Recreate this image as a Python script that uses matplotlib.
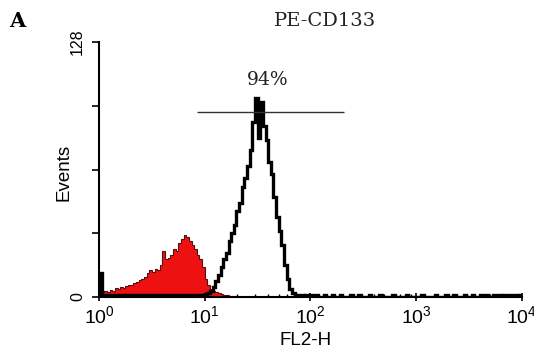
import matplotlib
matplotlib.use("Agg")
import matplotlib.pyplot as plt
import numpy as np

plt.rcParams["font.family"] = ["Liberation Sans", "DejaVu Sans"]
plt.rcParams["mathtext.default"] = "regular"

# histogram channels: 40 bins per decade, 10^0 .. 10^4
BINS_PER_DECADE = 40
edges = 10 ** (np.arange(0, 4 * BINS_PER_DECADE + 1) / BINS_PER_DECADE)

# PE-CD133 stained (black outline), first 2 decades
stained_lo = [12, 1, 0.5, 1, 0.5, 1, 1, 0.5, 1, 0.5,
              1, 1, 0.5, 1, 1, 0.5, 1, 1, 0.5, 1,
              1, 0.5, 1, 1, 0.5, 1, 1, 0.5, 1, 1,
              0.5, 1, 1, 0.5, 1, 1, 0.5, 1, 1, 1,
              1.5, 2, 3, 5, 8, 11, 15, 19, 22, 28,
              32, 36, 43, 47, 55, 60, 66, 74, 88, 100,
              80, 98, 86, 79, 68, 62, 50, 40, 33, 26,
              16, 9, 4, 2, 1, 0.5, 1, 0.5, 1, 0.5]
# decades 2..4, baseline noise
stained_hi = [1, 0, 1, 0, 0, 1, 0, 0, 1, 0,
              0, 1, 0, 0, 0, 1, 0, 0, 1, 0,
              0, 0, 1, 0, 0, 0, 1, 0, 0, 0,
              0, 1, 0, 0, 0, 0, 1, 0, 0, 0,
              0, 0, 1, 0, 0, 0, 0, 1, 0, 0,
              0, 1, 0, 0, 1, 0, 0, 0, 1, 0,
              0, 1, 0, 0, 1, 0, 1, 0, 0, 1,
              0, 1, 0, 1, 0, 1, 0, 1, 0, 1]
stained = stained_lo + stained_hi

# isotype control (red filled)
isotype_lo = [3, 2.5, 3, 2.5, 3.5, 3, 4.5, 4, 5, 4.5,
              5.5, 6, 6, 7, 7.5, 8.5, 9, 10, 12, 13.5,
              12.5, 14, 13.5, 16, 23, 19, 19.5, 21, 24, 23,
              27, 29, 31, 30, 28, 26, 24, 21, 19, 15,
              9, 6, 4, 3, 2.5, 2, 1.5, 1, 1, 0.5,
              0.5, 0]
isotype = isotype_lo + [0] * (len(edges) - 1 - len(isotype_lo))

gate_lo, gate_hi, gate_y = 8.4, 209, 93
gate_label = "94%"

fig = plt.figure(figsize=(5.34, 3.54), dpi=100)
ax = fig.add_axes([0.1854, 0.161, 0.792, 0.720])

ax.stairs(isotype, edges, fill=True, color="#ee1111", zorder=2)
ax.stairs(isotype, edges, color="#551111", lw=0.8, zorder=2)
ax.stairs(stained, edges, color="black", lw=2.4, zorder=3)

ax.hlines(gate_y, gate_lo, gate_hi, color="#333333", lw=1.0, zorder=4)
ax.text(39, 109, gate_label, ha="center", va="center", fontsize=13.5,
        family="DejaVu Serif", color="#222222")

ax.set_xscale("log")
ax.set_xlim(1, 1e4)
ax.set_ylim(0, 128)
for s in ("top", "right"):
    ax.spines[s].set_visible(False)
for s in ("left", "bottom"):
    ax.spines[s].set_linewidth(1.5)

ax.set_yticks([0, 32, 64, 96, 128])
ax.set_yticklabels(["0", "", "", "", "128"], rotation=90, va="center", fontsize=11.5)
ax.tick_params(axis="y", direction="out", length=5, width=1.2, pad=5)
ax.set_xticks([1, 10, 100, 1000, 10000])
ax.set_xticklabels([r"$10^{0}$", r"$10^{1}$", r"$10^{2}$", r"$10^{3}$", r"$10^{4}$"],
                   fontsize=14)
ax.tick_params(axis="x", which="major", direction="inout", length=6, width=1.2, pad=3)
ax.tick_params(axis="x", which="minor", direction="in", length=2.5, width=1)

ax.set_xlabel("FL2-H", fontsize=13.5, va="center")
ax.xaxis.set_label_coords(0.489, -0.169)
ax.set_ylabel("Events", fontsize=13.5, va="center")
ax.yaxis.set_label_coords(-0.082, 0.49)

fig.text(325 / 534, 1 - 21 / 354, "PE-CD133", ha="center", va="center",
         fontsize=14, family="DejaVu Serif", color="#222222")
fig.text(17 / 534, 1 - 21 / 354, "A", ha="center", va="center",
         fontsize=15, fontweight="bold", family="DejaVu Serif")

fig.savefig("out.png", dpi=100)
